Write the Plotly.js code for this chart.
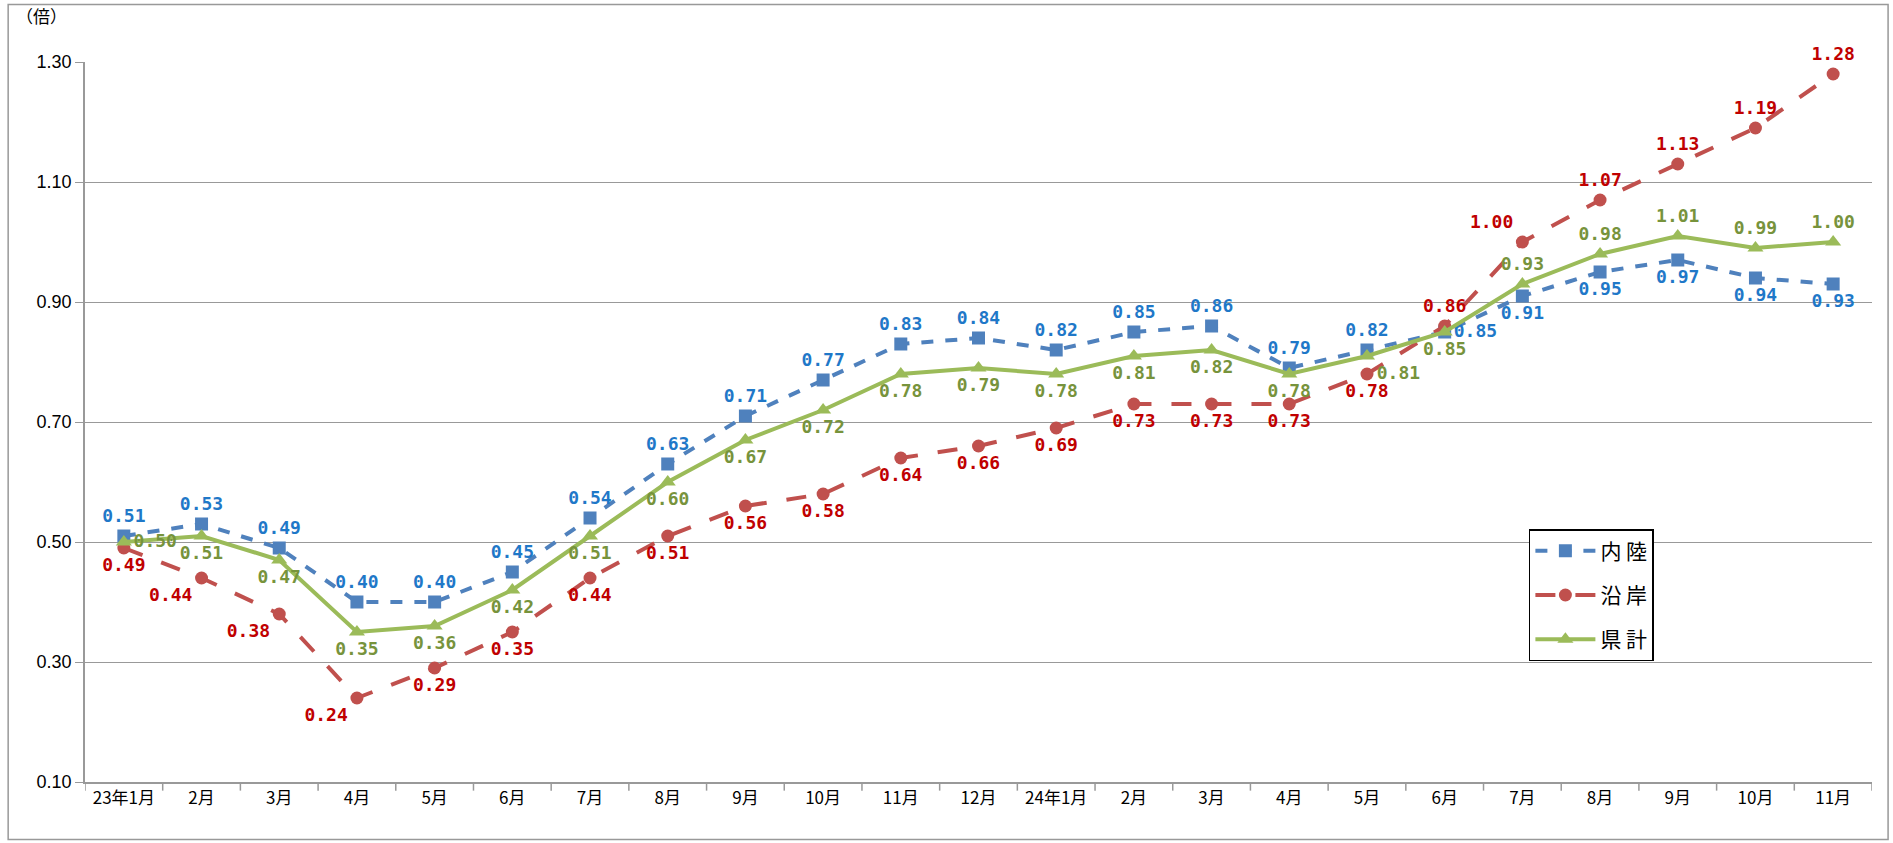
<!DOCTYPE html>
<html><head><meta charset="utf-8">
<script src="https://cdn.plot.ly/plotly-3.0.1.min.js"></script>
<style>html,body{margin:0;padding:0;background:#fff}#c{width:1893px;height:843px}</style>
</head><body><div id="c"></div>
<script>
const months = ["23年1月","2月","3月","4月","5月","6月","7月","8月","9月","10月","11月","12月","24年1月","2月","3月","4月","5月","6月","7月","8月","9月","10月","11月"];
const inland = [0.51,0.53,0.49,0.40,0.40,0.45,0.54,0.63,0.71,0.77,0.83,0.84,0.82,0.85,0.86,0.79,0.82,0.85,0.91,0.95,0.97,0.94,0.93];
const coastal = [0.49,0.44,0.38,0.24,0.29,0.35,0.44,0.51,0.56,0.58,0.64,0.66,0.69,0.73,0.73,0.73,0.78,0.86,1.00,1.07,1.13,1.19,1.28];
const total = [0.50,0.51,0.47,0.35,0.36,0.42,0.51,0.60,0.67,0.72,0.78,0.79,0.78,0.81,0.82,0.78,0.81,0.85,0.93,0.98,1.01,0.99,1.00];
const names = ["内 陸","沿 岸","県 計"];

const x = months.map((m,i)=>i);
const posIn = inland.map((v,i)=> i<17 ? "top center" : (i===17 ? "middle right" : "bottom center"));
const posCo = coastal.map((v,i)=> i<17 ? ((i>=1&&i<=3)?"bottom left":"bottom center") : (i===18?"top left":"top center"));
const posTo = total.map((v,i)=> i===0 ? "middle right" : (i===16 ? "bottom right" : (i<18 ? "bottom center" : "top center")));
const lblFont = (c)=>({family:"DejaVu Sans Mono, monospace", size:18, color:c, weight:"bold"});
const fmt = a => a.map(v=>v.toFixed(2));

const traces = [
 {x, y:inland, name:names[0], legendgroup:"a", mode:"lines+markers+text", text:fmt(inland), textposition:posIn,
  textfont:lblFont("#1F78C8"), line:{color:"#4F81BD", width:4, dash:"dash"}, marker:{symbol:"square", size:13, color:"#4F81BD"}, cliponaxis:false},
 {x, y:coastal, name:names[1], legendgroup:"b", mode:"lines+markers+text", text:fmt(coastal), textposition:posCo,
  textfont:lblFont("#C00000"), line:{color:"#C0504D", width:4, dash:"longdash"}, marker:{symbol:"circle", size:13, color:"#C0504D"}, cliponaxis:false},
 {x, y:total, name:names[2], legendgroup:"c", mode:"lines+markers+text", text:fmt(total), textposition:posTo,
  textfont:lblFont("#77933C"), line:{color:"#9BBB59", width:4}, marker:{symbol:"triangle-up", size:14, color:"#9BBB59"}, cliponaxis:false}
];

const layout = {
 width:1893, height:843,
 margin:{l:85, r:21, t:62, b:61},
 paper_bgcolor:"#fff", plot_bgcolor:"#fff",
 font:{family:"Noto Sans CJK JP, Noto Sans, sans-serif", size:17, color:"#000"},
 showlegend:true,
 legend:{x:0.808, y:0.168, xanchor:"left", yanchor:"bottom", bordercolor:"#000", borderwidth:1.5, bgcolor:"#fff",
   font:{size:21, family:"Noto Sans CJK JP"}, tracegroupgap:14, itemwidth:60},
 xaxis:{type:"linear", range:[-0.5,22.5], tickvals:x, ticktext:months, showgrid:false, zeroline:false,
   showline:true, linecolor:"#999", linewidth:1.5, ticks:"", tickfont:{size:17}},
 yaxis:{range:[0.1,1.3], dtick:0.2, tick0:0.1, tickformat:".2f", showgrid:true, gridcolor:"#999", gridwidth:1.3,
   zeroline:false, showline:true, linecolor:"#999", linewidth:1.5, tickfont:{size:18, family:"Liberation Sans, Arial"}, ticks:"outside", ticklen:8, tickcolor:"#999"},
 shapes:[
  {type:"rect", xref:"paper", yref:"paper", x0:-0.043, x1:1.009, y0:-0.08, y1:1.08, line:{color:"#999", width:1.5}},
  ...months.map((m,i)=>({type:"line", xref:"x", yref:"paper", x0:i+0.5, x1:i+0.5, y0:0, y1:-0.012, line:{color:"#999", width:1.5}})),
  {type:"line", xref:"x", yref:"paper", x0:-0.5, x1:-0.5, y0:0, y1:-0.012, line:{color:"#999", width:1.5}}
 ],
 annotations:[{text:"（倍）", xref:"paper", yref:"paper", x:-0.04, y:1.065, xanchor:"left", yanchor:"middle", showarrow:false, font:{size:17}}]
};
Plotly.newPlot("c", traces, layout, {displayModeBar:false});
</script></body></html>
